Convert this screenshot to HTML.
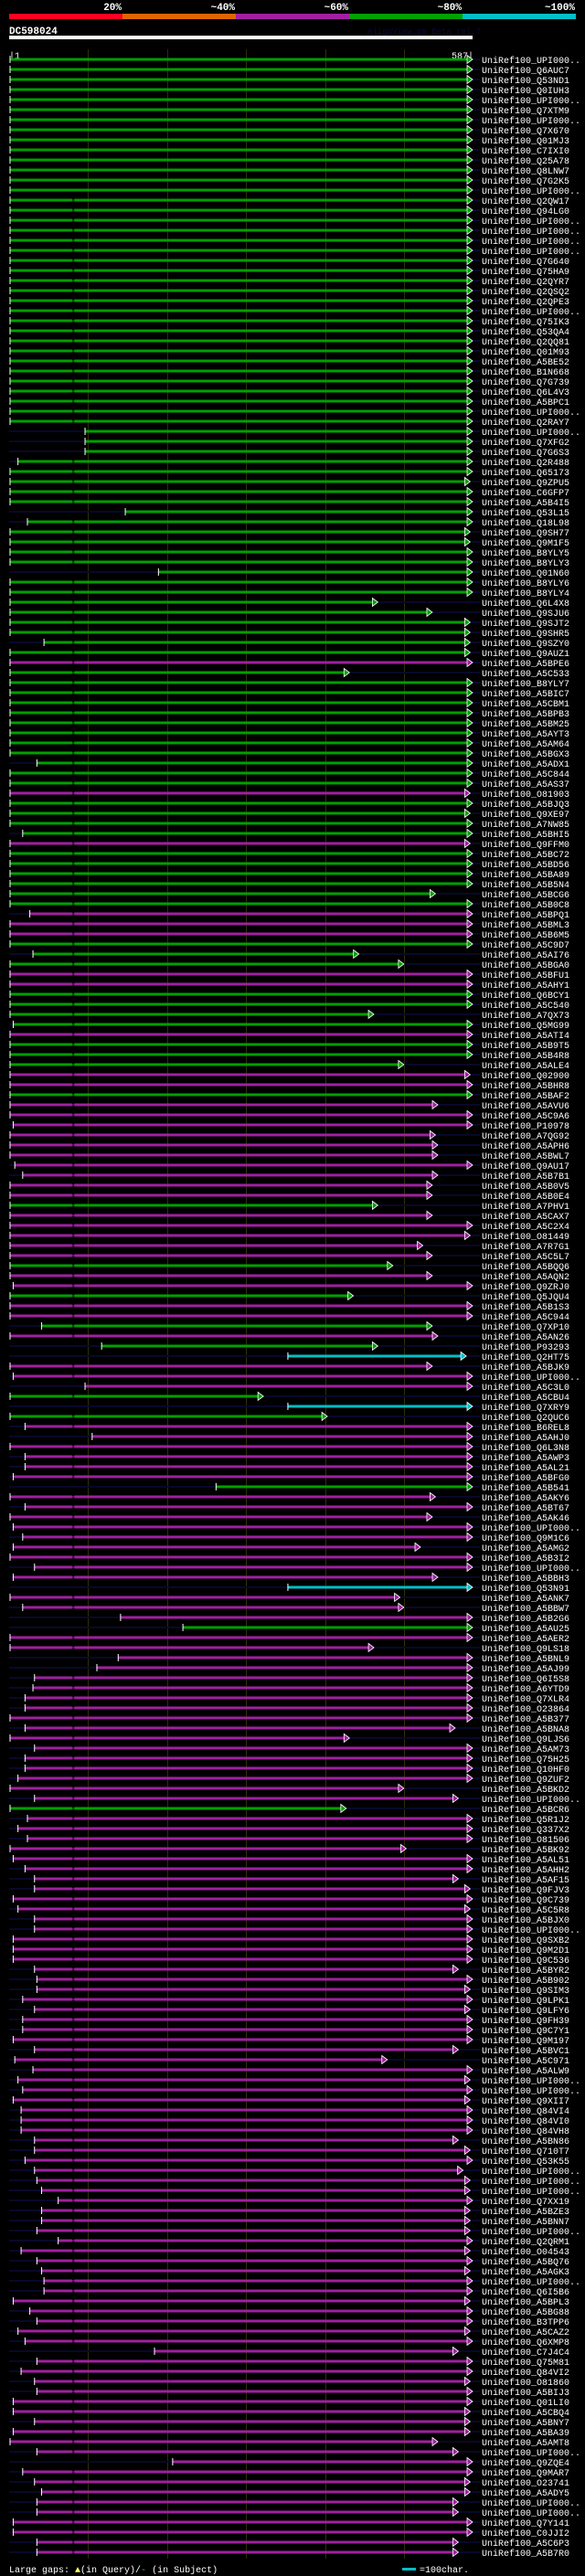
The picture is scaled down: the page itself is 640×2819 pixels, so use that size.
<!DOCTYPE html>
<html><head><meta charset="utf-8"><style>
html,body{margin:0;padding:0;background:#000;}
svg{display:block;}
text{font-family:"Liberation Mono",monospace;}
</style></head><body>
<svg id="chart" width="640" height="2819" viewBox="0 0 640 2819" xmlns="http://www.w3.org/2000/svg">
<rect x="0" y="0" width="640" height="2819" fill="#000"/>
<g>
<text x="133" y="11" text-anchor="end" fill="#fff" font-size="11" font-weight="bold">20%</text>
<text x="257" y="11" text-anchor="end" fill="#fff" font-size="11" font-weight="bold">~40%</text>
<text x="381" y="11" text-anchor="end" fill="#fff" font-size="11" font-weight="bold">~60%</text>
<text x="505" y="11" text-anchor="end" fill="#fff" font-size="11" font-weight="bold">~80%</text>
<text x="629" y="11" text-anchor="end" fill="#fff" font-size="11" font-weight="bold">~100%</text>
<rect x="10" y="15" width="124" height="6" fill="#ff0022"/>
<rect x="134" y="15" width="124" height="6" fill="#dd6600"/>
<rect x="258" y="15" width="124" height="6" fill="#a020a0"/>
<rect x="382" y="15" width="124" height="6" fill="#00a000"/>
<rect x="506" y="15" width="124" height="6" fill="#00bfc8"/>
</g>
<text x="10" y="37" fill="#fff" font-size="11" font-weight="bold">DC598024</text>
<text x="402" y="37" fill="#0a0a40" font-size="9">AlignView.pm Beta rel.7</text>
<rect x="10" y="39" width="507" height="4" fill="#fff"/>
<text x="10" y="64" fill="#fff" font-size="10">|1</text>
<text x="518" y="64" text-anchor="end" fill="#fff" font-size="10">587|</text>
<g id="grid"></g>
<g id="rows"></g>
<g>
<text x="10" y="2815" fill="#fff" font-size="10">Large gaps: <tspan fill="#ffff66">▲</tspan>(in Query)/<tspan fill="#00bfc8">-</tspan> (in Subject)</text>
<rect x="440" y="2810" width="15" height="3" fill="#00bfc8"/>
<text x="459" y="2815" fill="#fff" font-size="10">=100char.</text>
</g>
</svg>
<script>
const gridTicks = [100, 200, 300, 400, 500];
const labels = [
"UPI000..","Q6AUC7","Q53ND1","Q0IUH3","UPI000..","Q7XTM9","UPI000..","Q7X670","Q01MJ3","C7IXI0",
"Q25A78","Q8LNW7","Q7G2K5","UPI000..","Q2QW17","Q94LG0","UPI000..","UPI000..","UPI000..","UPI000..",
"Q7G640","Q75HA9","Q2QYR7","Q2QSQ2","Q2QPE3","UPI000..","Q75IK3","Q53QA4","Q2QQ81","Q01M93",
"A5BE52","B1N668","Q7G739","Q6L4V3","A5BPC1","UPI000..","Q2RAY7","UPI000..","Q7XFG2","Q7G6S3",
"Q2R488","Q65173","Q9ZPU5","C6GFP7","A5B4I5","Q53L15","Q18L98","Q9SH77","Q9M1F5","B8YLY5",
"B8YLY3","Q01N60","B8YLY6","B8YLY4","Q6L4X8","Q9SJU6","Q9SJT2","Q9SHR5","Q9SZY0","Q9AUZ1",
"A5BPE6","A5C533","B8YLY7","A5BIC7","A5CBM1","A5BPB3","A5BM25","A5AYT3","A5AM64","A5BGX3",
"A5ADX1","A5C844","A5AS37","O81903","A5BJQ3","Q9XE97","A7NW85","A5BHI5","Q9FFM0","A5BC72",
"A5BD56","A5BA89","A5B5N4","A5BCG6","A5B0C8","A5BPQ1","A5BML3","A5B6M5","A5C9D7","A5AI76",
"A5BGA0","A5BFU1","A5AHY1","Q6BCY1","A5C540","A7QX73","Q5MG99","A5ATI4","A5B9T5","A5B4R8",
"A5ALE4","Q02900","A5BHR8","A5BAF2","A5AVU6","A5C9A6","P10978","A7QG92","A5APH6","A5BWL7",
"Q9AU17","A5B7B1","A5B0V5","A5B0E4","A7PHV1","A5CAX7","A5C2X4","O81449","A7R7G1","A5C5L7",
"A5BQQ6","A5AQN2","Q9ZRJ0","Q5JQU4","A5B1S3","A5C944","Q7XP10","A5AN26","P93293","Q2HT75",
"A5BJK9","UPI000..","A5C3L0","A5CBU4","Q7XRY9","Q2QUC6","B6REL8","A5AHJ0","Q6L3N8","A5AWP3",
"A5AL21","A5BFG0","A5B541","A5AKY6","A5BT67","A5AK46","UPI000..","Q9M1C6","A5AMG2","A5B3I2",
"UPI000..","A5BBH3","Q53N91","A5ANK7","A5BBW7","A5B2G6","A5AU25","A5AER2","Q9LS18","A5BNL9",
"A5AJ99","Q6I5S8","A6YTD9","Q7XLR4","O23864","A5B377","A5BNA8","Q9LJS6","A5AM73","Q75H25",
"Q10HF0","Q9ZUF2","A5BKD2","UPI000..","A5BCR6","Q5R1J2","Q337X2","O81506","A5BK92","A5AL51",
"A5AHH2","A5AF15","Q9FJV3","Q9C739","A5C5R8","A5BJX0","UPI000..","Q9SXB2","Q9M2D1","Q9C536",
"A5BYR2","A5B902","Q9SIM3","Q9LPK1","Q9LFY6","Q9FH39","Q9C7Y1","Q9M197","A5BVC1","A5C971",
"A5ALW9","UPI000..","UPI000..","Q9XII7","Q84VI4","Q84VI0","Q84VH8","A5BN86","Q710T7","Q53K55",
"UPI000..","UPI000..","UPI000..","Q7XX19","A5BZE3","A5BNN7","UPI000..","Q2QRM1","O04543","A5BQ76",
"A5AGK3","UPI000..","Q6I5B6","A5BPL3","A5BG88","B3TPP6","A5CAZ2","Q6XMP8","C7J4C4","Q75M81",
"Q84VI2","O81860","A5BIJ3","Q01LI0","A5CBQ4","A5BNY7","A5BA39","A5AMT8","UPI000..","Q9ZQE4",
"Q9MAR7","O23741","A5ADY5","UPI000..","UPI000..","Q7Y141","C0JJI2","A5C6P3","A5B7R0"];
const identityClass = (
"gggggggggg"+"gggggggggg"+"gggggggggg"+"gggggggggg"+"gggggggggg"+"gggggggggg"+
"mggggggggg"+"gggmggggmg"+"gggggmmmgg"+"gmmggggmgg"+"gmmgmmmmmm"+"mmmmgmmmmm"+
"gmmgmmgmgc"+"mmmgcgmmmm"+"mmgmmmmmmm"+"mmcmmmgmmm"+"mmmmmmmmmm"+"mmmmgmmmmm"+
"mmmmmmmmmm"+"mmmmmmmmmm"+"mmmmmmmmmm"+"mmmmmmmmmm"+"mmmmmmmmmm"+"mmmmmmmmmm"+"mmmmmmmmm").split("");
const starts = [
1,1,1,1,1,1,1,1,1,1, 1,1,1,1,1,1,1,1,1,1, 1,1,1,1,1,1,1,1,1,1,
1,1,1,1,1,1,1,96,96,96, 11,1,1,1,1,147,23,1,1,1, 1,189,1,1,1,1,1,1,44,1,
1,1,1,1,1,1,1,1,1,1, 35,1,1,1,1,1,1,17,1,1, 1,1,1,1,1,26,1,1,1,30,
1,1,1,1,1,1,5,1,1,1, 1,1,1,1,1,1,5,1,1,1, 7,17,1,1,1,1,1,1,1,1,
1,1,5,1,1,1,41,1,117,353, 1,5,96,1,353,1,20,105,1,20, 20,5,262,1,20,1,5,17,5,1,
32,5,353,1,17,141,220,1,1,138, 111,32,30,20,20,1,20,1,32,20, 20,11,1,32,1,23,11,23,1,5,
20,32,32,5,11,32,32,5,5,5, 32,35,35,17,32,17,17,5,32,7, 30,11,17,5,15,15,15,32,32,20,
32,35,41,62,41,41,35,62,15,35, 41,44,44,5,26,35,11,20,184,35, 15,32,35,5,5,32,5,1,35,207,
17,32,41,35,35,5,5,35,35];
const ends = [
587,587,587,587,587,587,587,587,587,587, 587,587,587,587,587,587,587,587,587,587,
587,587,587,587,587,587,587,587,587,587, 587,587,587,587,587,587,587,587,587,587,
587,587,584,587,587,587,587,584,584,587, 587,587,587,587,467,536,584,584,584,584,
587,431,587,587,587,587,587,587,587,587, 587,587,587,584,587,584,587,587,584,587,
587,587,587,540,587,587,587,587,587,443, 500,587,587,587,587,462,587,587,587,587,
500,584,587,587,543,587,587,540,543,543, 587,543,536,536,467,536,587,584,524,536,
486,536,587,436,587,587,536,543,467,579, 536,587,587,322,587,403,587,587,587,587,
587,587,587,540,587,536,587,587,521,587, 587,543,587,495,500,587,587,587,462,587,
587,587,587,587,587,587,565,431,587,587, 587,587,500,569,427,587,587,587,503,587,
587,569,584,587,584,587,587,587,587,587, 569,587,584,587,584,587,587,587,569,479,
587,584,587,584,587,587,587,569,584,587, 575,584,584,587,584,584,584,587,584,587,
584,587,587,584,587,587,584,587,569,587, 587,584,587,587,584,584,584,543,569,587,
587,584,584,569,569,587,587,569,569];

const NS = "http://www.w3.org/2000/svg";
const palette = {g:"#00a000", m:"#a020a0", c:"#00bfc8"};
const xScale = p => 11 + (p - 1) * (517 - 11) / 586;
const yRow = i => 65 + i * 11;
function mk(tag, attrs, parent) {
  const el = document.createElementNS(NS, tag);
  for (const k in attrs) el.setAttribute(k, attrs[k]);
  parent.appendChild(el);
  return el;
}
const grid = document.getElementById("grid");
gridTicks.forEach(t => {
  const gx = Math.round(xScale(t)) + 0.5;
  const ln = mk("line", {x1: gx, x2: gx, y1: 54, y2: 2800, stroke: "#2e2e08", "stroke-width": 1}, grid);
  
  
});
const rowsG = document.getElementById("rows");
for (let i = 0; i < labels.length; i++) {
  const y = yRow(i);
  const col = palette[identityClass[i]] || palette.m;
  const g = mk("g", {}, rowsG);
  
  
  const xs = xScale(starts[i]);
  const xe = xScale(ends[i]);
  const sub = mk("rect", {x: 10, y: y - 1, width: 515, height: 2, fill: "#08082a"}, g);
  
  
  const bar = mk("rect", {x: xs, y: y - 1.5, width: Math.max(0, xe - 6 - xs), height: 3, fill: col}, g);
  
  
  if (i >= 14 && starts[i] < 70 && ends[i] > 120) {
    const gx = xScale(80);
    const gap = mk("rect", {x: gx, y: y - 1.5, width: 2, height: 3, fill: "#000"}, g);
    
    
    const gl = mk("rect", {x: gx, y: y - 0.5, width: 2, height: 1, fill: col}, g);
    
    
  }
  const tick = mk("rect", {x: xs - 0.5, y: y - 4, width: 1, height: 8, fill: "#fff"}, g);
  
  
  const arr = mk("polygon", {points: (xe-6)+","+(y-4.5)+" "+xe+","+y+" "+(xe-6)+","+(y+4.5), fill: col, stroke: "#fff", "stroke-width": 0.8}, g);
  
  
  const tx = mk("text", {x: 527, y: y + 4, fill: "#fff", "font-size": 10}, g);
  tx.textContent = "UniRef100_" + labels[i];
  
  
}
</script>
</body></html>
